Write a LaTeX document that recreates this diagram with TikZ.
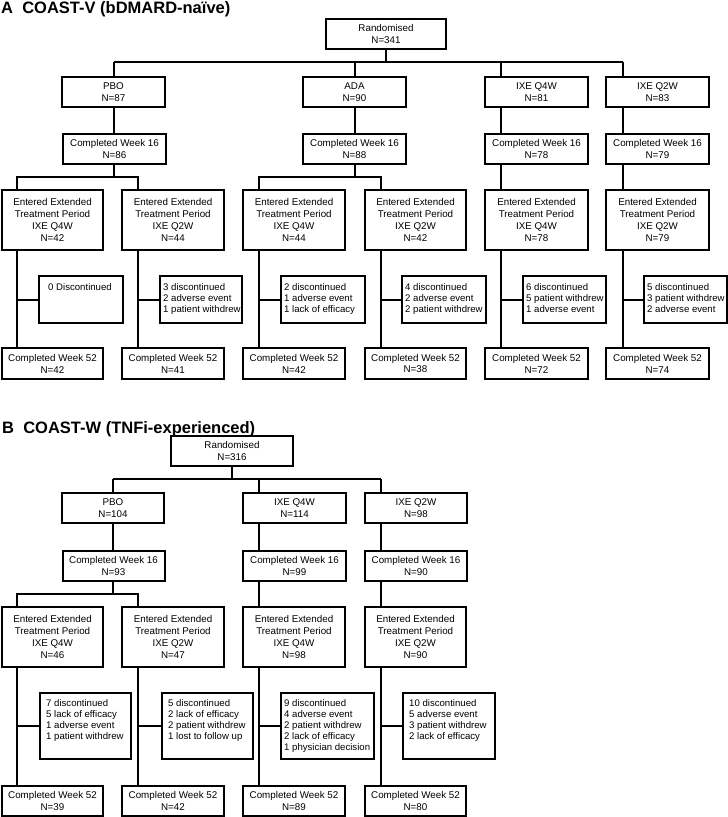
\documentclass[tikz,border=0pt]{standalone}
\usepackage{fontspec}
\setmainfont{Liberation Sans}
\usetikzlibrary{calc}
\begin{document}
\begin{tikzpicture}[x=1pt,y=-1pt,
  conn/.style={line width=2pt},
  wh/.style 2 args={minimum width=#1, minimum height=#2},
  bx/.style={draw, line width=2pt, inner sep=0pt, align=center, font=\fontsize{9.8}{11.9}\selectfont},
  disc/.style={draw, line width=2pt, inner sep=0pt, anchor=north west},
  dtxt/.style={anchor=north west, inner sep=0pt, align=left, font=\fontsize{9.6}{11.1}\selectfont},
  ttl/.style={anchor=base west, inner sep=0pt, font=\fontsize{16.5}{19}\selectfont\bfseries}]
\useasboundingbox (0,0) rectangle (728,817);

% ================= Panel A =================
\node[ttl] (titleA) at (1,13) {A\ \ COAST-V (bDMARD-naïve)};

\node[bx, wh={120pt}{30pt}] (rA) at (386,34) {Randomised\\N=341};

\node[bx, wh={103pt}{30pt}] (pboA) at (113.5,92) {PBO\\N=87};
\node[bx, wh={103pt}{30pt}] (adaA) at (354.5,92) {ADA\\N=90};
\node[bx, wh={103pt}{30pt}] (q4A)  at (536.5,92) {IXE Q4W\\N=81};
\node[bx, wh={103pt}{30pt}] (q2A)  at (657.5,92) {IXE Q2W\\N=83};

\node[bx, wh={103pt}{30pt}] (c16pA) at (114.5,149) {Completed Week 16\\N=86};
\node[bx, wh={103pt}{30pt}] (c16aA) at (354.5,149) {Completed Week 16\\N=88};
\node[bx, wh={103pt}{30pt}] (c16qA) at (536.5,149) {Completed Week 16\\N=78};
\node[bx, wh={103pt}{30pt}] (c16rA) at (657.5,149) {Completed Week 16\\N=79};

\node[bx, wh={101pt}{60pt}] (e1A) at (52.5,220) {Entered Extended\\Treatment Period\\IXE Q4W\\N=42};
\node[bx, wh={102pt}{60pt}] (e2A) at (173,220) {Entered Extended\\Treatment Period\\IXE Q2W\\N=44};
\node[bx, wh={102pt}{60pt}] (e3A) at (294,220) {Entered Extended\\Treatment Period\\IXE Q4W\\N=44};
\node[bx, wh={101pt}{60pt}] (e4A) at (415.5,220) {Entered Extended\\Treatment Period\\IXE Q2W\\N=42};
\node[bx, wh={103pt}{60pt}] (e5A) at (536.5,220) {Entered Extended\\Treatment Period\\IXE Q4W\\N=78};
\node[bx, wh={103pt}{60pt}] (e6A) at (657.5,220) {Entered Extended\\Treatment Period\\IXE Q2W\\N=79};

\node[disc, wh={84pt}{47pt}] (d1A) at (38,275) {};
\node[disc, wh={82pt}{47pt}] (d2A) at (159,275) {};
\node[disc, wh={84pt}{47pt}] (d3A) at (280,275) {};
\node[disc, wh={84pt}{47pt}] (d4A) at (401,275) {};
\node[disc, wh={83pt}{47pt}] (d5A) at (522,275) {};
\node[disc, wh={83pt}{47pt}] (d6A) at (643,275) {};
\node[dtxt, anchor=north] (t1A) at (80,283) {0 Discontinued};
\node[dtxt] (t2A) at (163,283) {3 discontinued\\2 adverse event\\1 patient withdrew};
\node[dtxt] (t3A) at (284,283) {2 discontinued\\1 adverse event\\1 lack of efficacy};
\node[dtxt] (t4A) at (405,283) {4 discontinued\\2 adverse event\\2 patient withdrew};
\node[dtxt] (t5A) at (526,283) {6 discontinued\\5 patient withdrew\\1 adverse event};
\node[dtxt] (t6A) at (647,283) {5 discontinued\\3 patient withdrew\\2 adverse event};

\node[bx, wh={101pt}{31pt}] (f1A) at (52.5,363.5) {Completed Week 52\\N=42};
\node[bx, wh={102pt}{31pt}] (f2A) at (173,363.5) {Completed Week 52\\N=41};
\node[bx, wh={102pt}{31pt}] (f3A) at (294,363.5) {Completed Week 52\\N=42};
\node[bx, wh={101pt}{31pt}] (f4A) at (415.5,363.5) {Completed Week 52\\N=38};
\node[bx, wh={103pt}{31pt}] (f5A) at (536.5,363.5) {Completed Week 52\\N=72};
\node[bx, wh={103pt}{31pt}] (f6A) at (657.5,363.5) {Completed Week 52\\N=74};

% column lines
\coordinate (barA) at (0,62);
\coordinate (k1A) at (17,0);
\coordinate (k2A) at (138,0);
\coordinate (k3A) at (259,0);
\coordinate (k4A) at (381,0);
\coordinate (k5A) at (501,0);
\coordinate (k6A) at (623,0);
\coordinate (sA) at (0,177);

\draw[conn] (rA) -- (rA |- barA);
\draw[conn] (pboA |- barA) -- (k6A |- barA);
\draw[conn] (pboA) -- (pboA |- barA);
\draw[conn] (adaA) -- (adaA |- barA);
\draw[conn] (k5A |- q4A.north) -- (k5A |- barA);
\draw[conn] (k6A |- q2A.north) -- (k6A |- barA);

\draw[conn] (pboA) -- (pboA |- c16pA.north);
\draw[conn] (adaA) -- (c16aA);
\draw[conn] (k5A |- q4A.south) -- (k5A |- c16qA.north);
\draw[conn] (k6A |- q2A.south) -- (k6A |- c16rA.north);

\draw[conn] (pboA |- c16pA.south) -- (pboA |- sA);
\draw[conn] (k1A |- e1A.north) |- (k2A |- sA) -- (k2A |- e2A.north);
\draw[conn] (c16aA) -- (c16aA |- sA);
\draw[conn] (k3A |- e3A.north) |- (k4A |- sA) -- (k4A |- e4A.north);
\draw[conn] (k5A |- c16qA.south) -- (k5A |- e5A.north);
\draw[conn] (k6A |- c16rA.south) -- (k6A |- e6A.north);

\foreach \i in {1,...,6}{
  \draw[conn] (k\i A |- e\i A.south) -- (k\i A |- f\i A.north);
  \draw[conn] (k\i A |- d\i A.west) -- (d\i A.west);
}

% ================= Panel B =================
\node[ttl] (titleB) at (2,433) {B\ \ COAST-W (TNFi-experienced)};

\node[bx, wh={122pt}{30pt}] (rB) at (232,451) {Randomised\\N=316};

\node[bx, wh={102pt}{30pt}] (pboB) at (113,508) {PBO\\N=104};
\node[bx, wh={103pt}{30pt}] (q4B)  at (294.5,508) {IXE Q4W\\N=114};
\node[bx, wh={102pt}{30pt}] (q2B)  at (416,508) {IXE Q2W\\N=98};

\node[bx, wh={102pt}{30pt}] (c16pB) at (113.5,566) {Completed Week 16\\N=93};
\node[bx, wh={103pt}{30pt}] (c16qB) at (294.5,566) {Completed Week 16\\N=99};
\node[bx, wh={102pt}{30pt}] (c16rB) at (416,566) {Completed Week 16\\N=90};

\node[bx, wh={101pt}{60pt}] (e1B) at (52.5,637) {Entered Extended\\Treatment Period\\IXE Q4W\\N=46};
\node[bx, wh={102pt}{60pt}] (e2B) at (173,637) {Entered Extended\\Treatment Period\\IXE Q2W\\N=47};
\node[bx, wh={102pt}{60pt}] (e3B) at (294,637) {Entered Extended\\Treatment Period\\IXE Q4W\\N=98};
\node[bx, wh={101pt}{60pt}] (e4B) at (415.5,637) {Entered Extended\\Treatment Period\\IXE Q2W\\N=90};

\node[disc, wh={91pt}{66pt}] (d1B) at (39,692) {};
\node[disc, wh={91pt}{66pt}] (d2B) at (161,692) {};
\node[disc, wh={93pt}{66pt}] (d3B) at (280,692) {};
\node[disc, wh={92pt}{66pt}] (d4B) at (402,692) {};
\node[dtxt] (t1B) at (46,699) {7 discontinued\\5 lack of efficacy\\1 adverse event\\1 patient withdrew};
\node[dtxt] (t2B) at (168,699) {5 discontinued\\2 lack of efficacy\\2 patient withdrew\\1 lost to follow up};
\node[dtxt] (t3B) at (284,699) {9 discontinued\\4 adverse event\\2 patient withdrew\\2 lack of efficacy\\1 physician decision};
\node[dtxt] (t4B) at (409,699) {10 discontinued\\5 adverse event\\3 patient withdrew\\2 lack of efficacy};

\node[bx, wh={101pt}{30pt}] (f1B) at (52.5,801) {Completed Week 52\\N=39};
\node[bx, wh={102pt}{30pt}] (f2B) at (173,801) {Completed Week 52\\N=42};
\node[bx, wh={102pt}{30pt}] (f3B) at (294,801) {Completed Week 52\\N=89};
\node[bx, wh={101pt}{30pt}] (f4B) at (415.5,801) {Completed Week 52\\N=80};

\coordinate (barB) at (0,479);
\coordinate (k1B) at (17,0);
\coordinate (k2B) at (138,0);
\coordinate (k3B) at (259,0);
\coordinate (k4B) at (381,0);
\coordinate (sB) at (0,594);

\draw[conn] (rB) -- (rB |- barB);
\draw[conn] (pboB |- barB) -- (k4B |- barB);
\draw[conn] (pboB) -- (pboB |- barB);
\draw[conn] (k3B |- q4B.north) -- (k3B |- barB);
\draw[conn] (k4B |- q2B.north) -- (k4B |- barB);

\draw[conn] (pboB) -- (pboB |- c16pB.north);
\draw[conn] (k3B |- q4B.south) -- (k3B |- c16qB.north);
\draw[conn] (k4B |- q2B.south) -- (k4B |- c16rB.north);

\draw[conn] (pboB |- c16pB.south) -- (pboB |- sB);
\draw[conn] (k1B |- e1B.north) |- (k2B |- sB) -- (k2B |- e2B.north);
\draw[conn] (k3B |- c16qB.south) -- (k3B |- e3B.north);
\draw[conn] (k4B |- c16rB.south) -- (k4B |- e4B.north);

\foreach \i in {1,...,4}{
  \draw[conn] (k\i B |- e\i B.south) -- (k\i B |- f\i B.north);
  \draw[conn] (k\i B |- d\i B.west) -- (d\i B.west);
}
\end{tikzpicture}
\end{document}
